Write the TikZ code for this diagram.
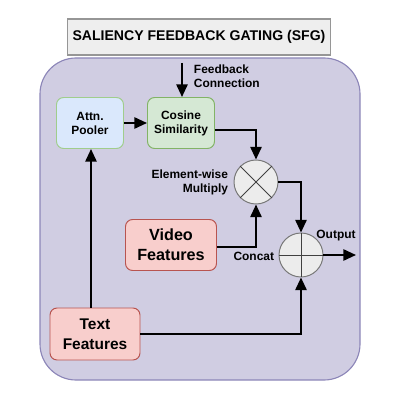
\documentclass[tikz,border=0pt]{standalone}
\usepackage{fontspec}
\setmainfont{Liberation Sans}
\usepackage{tikz}
\usetikzlibrary{arrows.meta,positioning,calc}
\definecolor{panelfill}{RGB}{208,205,226}
\definecolor{paneldraw}{RGB}{140,134,184}
\definecolor{titlefill}{RGB}{238,238,238}
\definecolor{titledraw}{RGB}{150,150,150}
\definecolor{poolfill}{RGB}{218,232,252}
\definecolor{pooldraw}{RGB}{160,205,140}
\definecolor{cosfill}{RGB}{213,232,212}
\definecolor{cosdraw}{RGB}{130,179,102}
\definecolor{featfill}{RGB}{248,206,204}
\definecolor{featdraw}{RGB}{184,84,80}
\definecolor{opfill}{RGB}{236,236,236}
\definecolor{opdraw}{RGB}{120,120,120}

\begin{document}
\begin{tikzpicture}[x=0.025cm, y=-0.025cm, font=\bfseries\fontsize{8.5}{10}\selectfont,
    flow/.style={-{Triangle[length=9pt,width=8pt]}, line width=1.4pt},
    block/.style={rectangle, rounded corners=5pt, draw, line width=0.7pt, align=center, inner sep=0pt},
    opnode/.style={circle, draw=opdraw, fill=opfill, line width=0.7pt, minimum size=44*0.025cm, inner sep=0pt}]
        \useasboundingbox (0,0) rectangle (400,400);

        % panel and title
        \node[draw=paneldraw, fill=panelfill, line width=0.8pt, rectangle, rounded corners=36*0.025cm, minimum width=320*0.025cm, minimum height=322*0.025cm] (panel) at (200,219) {};
        \node[draw=titledraw, fill=titlefill, line width=0.8pt, rectangle, minimum width=259*0.025cm, minimum height=36*0.025cm, font=\bfseries\fontsize{10}{12}\selectfont] (title) at (199,37) {SALIENCY FEEDBACK GATING (SFG)};

        % blocks
        \node[block, draw=pooldraw, fill=poolfill, minimum width=67*0.025cm, minimum height=51*0.025cm] (pooler) at (90,123) {Attn.\\Pooler};
        \node[block, draw=cosdraw, fill=cosfill, minimum width=67*0.025cm, minimum height=51*0.025cm] (cosine) at (181,123) {Cosine\\Similarity};
        \node[block, draw=featdraw, fill=featfill, minimum width=91*0.025cm, minimum height=51*0.025cm, font=\bfseries\fontsize{11.5}{14}\selectfont] (video) at (171,245) {Video\\Features};
        \node[block, draw=featdraw, fill=featfill, minimum width=90*0.025cm, minimum height=52*0.025cm, font=\bfseries\fontsize{11}{14}\selectfont] (text) at (95,334) {Text\\Features};

        % operators
        \node[opnode] (mult) at (256,182) {};
        \node[opnode] (concat) at (301,255) {};
        \draw[draw=black!75, line width=0.7pt] (mult.north west) -- (mult.south east) (mult.north east) -- (mult.south west);
        \draw[draw=black!75, line width=0.7pt] (concat.north) -- (concat.south) (concat.west) -- (concat.east);

        % labels
        \coordinate (fbtop) at (182,63);
        \coordinate (outend) at (356,255);
        \node[align=left, anchor=west] (fblabel) at (189,76) {Feedback\\Connection};
        \node[align=right, anchor=east] (multlabel) at (233,182) {Element-wise\\Multiply};
        \node[anchor=east] (concatlabel) at (279,256) {Concat};
        \node[anchor=south] (outlabel) at (336,246) {Output};

        % connections
        \draw[flow] (fbtop) -- (fbtop |- cosine.north);
        \draw[flow] (pooler) -- (cosine);
        \draw[flow] (cosine.east |- 0,130) -| (mult.north);
        \draw[flow] (video.east |- 0,247) -| (mult.south);
        \draw[flow] (mult.east) -| (concat.north);
        \draw[flow] (concat.east) -- (outend);
        \draw[flow] (text.north -| 91,0) -- (pooler.south -| 91,0);
        \draw[flow] (text.east) -| (concat.south);
      \end{tikzpicture}
\end{document}
